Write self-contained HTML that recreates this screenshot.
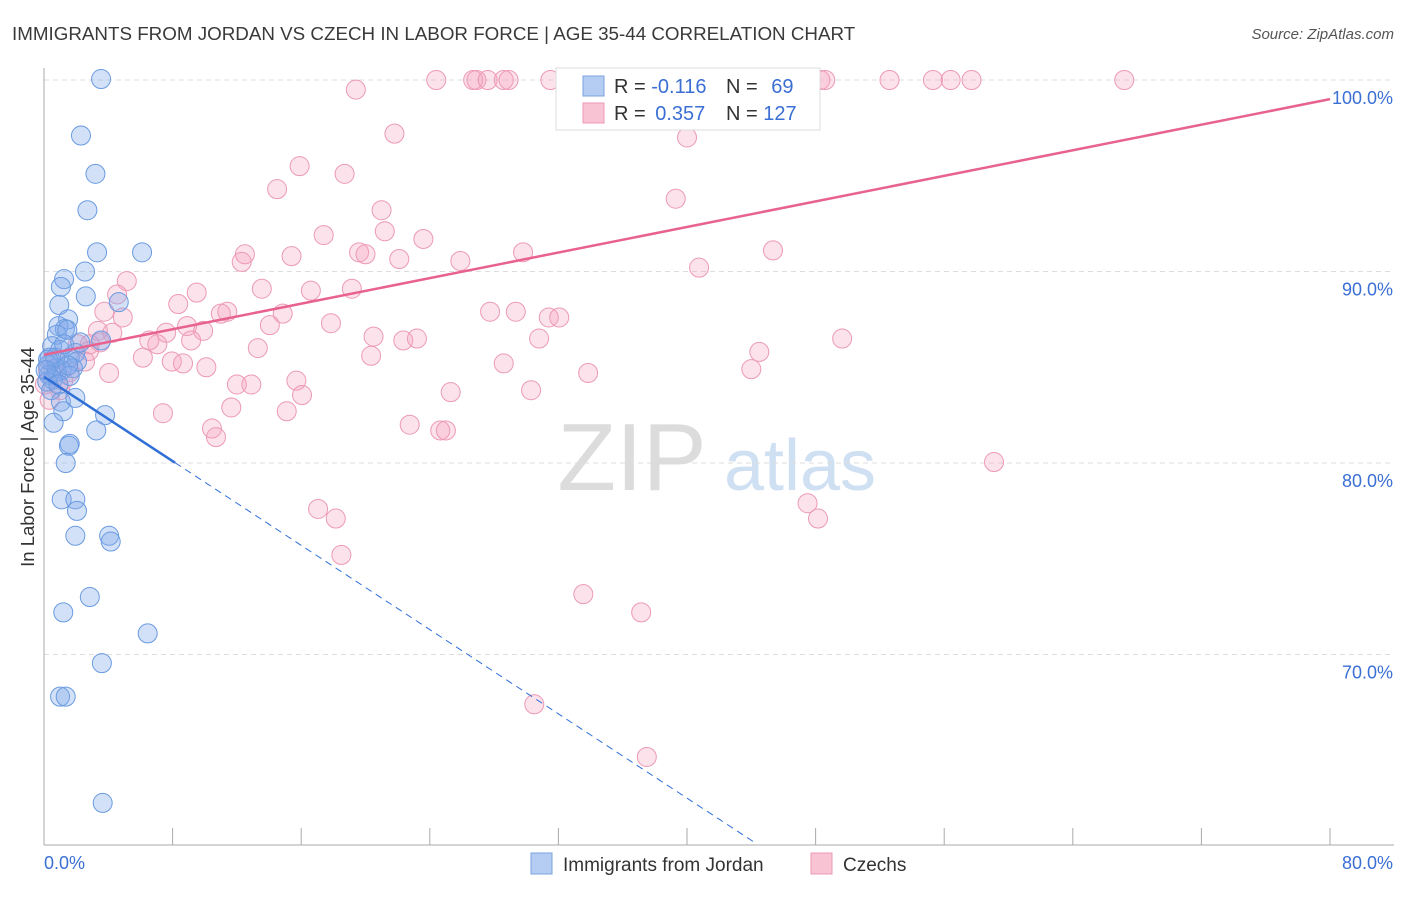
<!DOCTYPE html>
<html><head><meta charset="utf-8"><style>
body{margin:0;background:#fff;font-family:"Liberation Sans",sans-serif;}
svg text{font-family:"Liberation Sans",sans-serif;}
</style></head><body>
<svg id="chart" width="1406" height="892" viewBox="0 0 1406 892" xmlns="http://www.w3.org/2000/svg">
<text x="12" y="40" font-size="18.8" fill="#3a3a3a">IMMIGRANTS FROM JORDAN VS CZECH IN LABOR FORCE | AGE 35-44 CORRELATION CHART</text>
<text x="1394" y="39" font-size="15" fill="#555" text-anchor="end" font-style="italic">Source: ZipAtlas.com</text>
<g>
<text x="632" y="490" font-size="96" fill="#dcdcdc" text-anchor="middle" font-family="Liberation Serif,serif">ZIP</text>
<text x="800" y="490" font-size="72" fill="#cfe0f3" text-anchor="middle">atlas</text>
</g>
<g id="grid"></g>
<g id="axes"></g>
<g id="points"></g>
<g id="trends"></g>
<text transform="translate(34,457) rotate(-90)" font-size="18.5" fill="#333" text-anchor="middle">In Labor Force | Age 35-44</text>
<g>
<rect x="556" y="68" width="264" height="62" fill="#fff" stroke="#ddd"/>
<rect x="583" y="76" width="21" height="20" fill="#b5cdf2" stroke="#7aa3e2"/>
<text x="614" y="93" font-size="20" fill="#333">R = <tspan fill="#3b6fd4">-0.116</tspan></text>
<text x="726" y="93" font-size="20" fill="#333">N = <tspan fill="#3b6fd4" dx="8">69</tspan></text>
<rect x="583" y="103" width="21" height="20" fill="#f8c3d3" stroke="#ec9ab5"/>
<text x="614" y="120" font-size="20" fill="#333">R = <tspan fill="#3b6fd4" dx="4">0.357</tspan></text>
<text x="726" y="120" font-size="20" fill="#333">N = <tspan fill="#3b6fd4">127</tspan></text>
</g>
<g>
<rect x="531" y="853" width="21" height="21" fill="#b5cdf2" stroke="#7aa3e2"/>
<text x="563" y="871" font-size="19" fill="#333">Immigrants from Jordan</text>
<rect x="811" y="853" width="21" height="21" fill="#f8c3d3" stroke="#ec9ab5"/>
<text x="843" y="871" font-size="19" fill="#333">Czechs</text>
</g>
</svg>
<script>
const yTicks=[100,90,80,70];
const yTickLabels=["100.0%","90.0%","80.0%","70.0%"];
const xTickVals=[0,8,16,24,32,40,48,56,64,72,80];
const xEndLabels=["0.0%","80.0%"];
const jordanX=[3.55,2.3,3.2,2.7,3.3,6.1,2.55,1.25,1.05,2.6,4.65,0.95,1.5,0.9,1.3,0.8,1.45,3.55,0.5,1.0,1.95,1.6,0.35,2.05,0.25,0.75,1.1,1.8,0.3,0.8,1.6,0.55,0.2,0.45,1.05,1.95,3.8,1.2,3.25,0.6,1.6,1.55,1.35,1.1,1.95,2.05,1.95,4.05,4.15,2.85,1.2,6.45,3.6,1.0,1.35,3.65,0.25,0.7,1.25,2.25,0.9,0.1,1.5];
const jordanY=[100.05,97.1,95.1,93.2,91.0,91.0,90.0,89.6,89.2,88.7,88.4,88.25,87.5,87.15,87.0,86.7,86.95,86.4,86.1,85.9,85.75,85.5,85.5,85.3,85.1,84.95,84.85,84.95,84.6,84.75,84.55,84.35,84.25,83.8,83.2,83.4,82.5,82.7,81.7,82.1,81.0,80.9,80.0,78.1,78.1,77.5,76.2,76.2,75.9,73.0,72.2,71.1,69.55,67.8,67.8,62.25,85.4,85.5,86.2,86.3,84.1,84.85,85.1];
const czechX=[24.4,26.7,26.9,27.6,28.6,28.9,31.5,33.0,34.0,35.6,36.6,40.8,42.1,43.6,47.0,48.3,48.6,52.6,55.3,56.4,57.7,67.2,19.4,40.0,21.8,15.9,18.7,14.5,39.3,21.0,17.4,21.2,23.6,19.6,20.0,12.5,12.3,15.4,22.1,25.9,29.8,45.35,40.75,5.15,13.55,16.6,19.15,8.35,9.5,4.55,3.75,11.4,11.0,14.85,17.85,27.75,29.35,31.4,32.05,4.9,14.05,8.9,9.9,3.35,4.25,7.6,6.55,7.05,9.15,20.5,22.35,23.2,30.8,49.65,13.3,2.85,2.1,2.8,6.15,7.95,8.65,10.1,20.35,28.6,44.5,44.0,4.05,33.85,12.0,12.9,15.7,16.05,25.3,30.3,7.4,11.65,15.1,10.45,10.7,22.75,24.65,25.0,59.1,47.5,17.05,18.15,48.15,18.5,33.55,37.15,30.5,37.5,0.7,1.0,1.6,2.55,1.2,0.35,3.5,0.05,0.25];
const czechY=[100,100,100,100,100,100,100,100,100,100,100,100,100,100,100,100,100,100,100,100,100,100,99.5,97.0,97.2,95.5,95.1,94.3,93.8,93.2,91.9,92.1,91.7,91.0,90.9,90.9,90.5,90.8,90.65,90.55,91.0,91.1,90.2,89.5,89.1,89.0,89.1,88.3,88.9,88.8,87.9,87.9,87.8,87.8,87.3,87.9,87.9,87.6,87.6,87.6,87.2,87.15,86.9,86.9,86.8,86.8,86.4,86.2,86.4,86.6,86.4,86.5,86.5,86.5,86.0,86.2,86.2,85.85,85.5,85.3,85.2,85.0,85.6,85.2,85.8,84.9,84.7,84.7,84.1,84.1,84.3,83.55,83.7,83.8,82.6,82.9,82.7,81.8,81.35,82.0,81.7,81.7,80.05,77.9,77.6,77.1,77.1,75.2,73.15,72.2,67.4,64.65,85.4,83.8,84.75,85.3,84.3,83.3,86.3,84.1,84.85];
const czechTrend=[85.65,0.1669];   // intercept, slope
const jordanTrend=[84.5,-0.55];

const NS="http://www.w3.org/2000/svg";
const X0=44,X1=1330,PY100=80,PX_PER_PCT=19.15;
const xs=v=>X0+(v/80)*(X1-X0);
const ys=v=>PY100+(100-v)*PX_PER_PCT;
function mk(tag,attrs,parent){const e=document.createElementNS(NS,tag);for(const k in attrs)e.setAttribute(k,attrs[k]);parent.appendChild(e);return e;}
const grid=document.getElementById('grid'),axes=document.getElementById('axes'),pts=document.getElementById('points'),tr=document.getElementById('trends');
yTicks.forEach((t,i)=>{
  const l=mk('line',{x1:X0,x2:1394,y1:ys(t),y2:ys(t),stroke:'#ddd','stroke-dasharray':'5,4'},grid);
  
  
  const tx=mk('text',{x:1393,y:ys(t)+24,'font-size':18,fill:'#3b6fd4','text-anchor':'end'},axes);
  tx.textContent=yTickLabels[i];
  
  
});
const ya=mk('line',{x1:X0,x2:X0,y1:68,y2:845,stroke:'#aaa'},axes);


const xa=mk('line',{x1:X0,x2:1394,y1:845,y2:845,stroke:'#aaa'},axes);


xTickVals.forEach(v=>{
  const t=mk('line',{x1:xs(v),x2:xs(v),y1:828,y2:845,stroke:'#aaa'},axes);
  
  
});
[[0,'start',X0],[80,'end',1393]].forEach((d,i)=>{
  const tx=mk('text',{x:d[2],y:869,'font-size':18,fill:'#3b6fd4','text-anchor':d[1]},axes);
  tx.textContent=xEndLabels[i];
  
  
});
czechX.forEach((x,i)=>{
  const c=mk('circle',{cx:xs(x),cy:ys(czechY[i]),r:9.5,fill:'rgba(244,160,188,0.3)',stroke:'#ec9ab5','stroke-width':1},pts);
  
  
});
jordanX.forEach((x,i)=>{
  const c=mk('circle',{cx:xs(x),cy:ys(jordanY[i]),r:9.5,fill:'rgba(130,170,235,0.35)',stroke:'#6a9be0','stroke-width':1},pts);
  
  
});
const pl=mk('line',{x1:xs(0),y1:ys(czechTrend[0]),x2:xs(80),y2:ys(czechTrend[0]+80*czechTrend[1]),stroke:'#e8628f','stroke-width':2.5},tr);


const bEnd=8.15,bDash=44.2;
const bl=mk('line',{x1:xs(0),y1:ys(jordanTrend[0]),x2:xs(bEnd),y2:ys(jordanTrend[0]+bEnd*jordanTrend[1]),stroke:'#2f6fd6','stroke-width':2.5},tr);


const bd=mk('line',{x1:xs(bEnd),y1:ys(jordanTrend[0]+bEnd*jordanTrend[1]),x2:xs(bDash),y2:ys(jordanTrend[0]+bDash*jordanTrend[1]),stroke:'#2f6fd6','stroke-width':1,'stroke-dasharray':'7,5'},tr);


</script>
</body></html>
